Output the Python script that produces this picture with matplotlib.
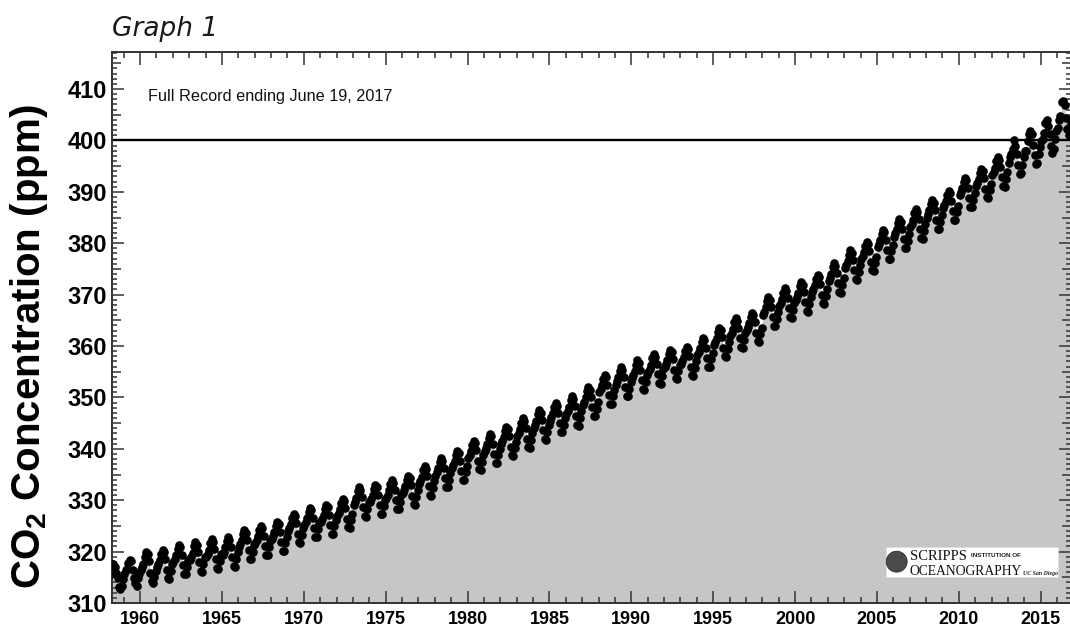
import matplotlib
matplotlib.use("Agg")
import matplotlib.pyplot as plt
import matplotlib.ticker as ticker
from matplotlib.patches import Rectangle, Ellipse
import numpy as np

###########################
# PLOT PARAMETERS
###########################
plt.rcParams['font.family'] = ['Liberation Sans', 'DejaVu Sans']
plt.rcParams['mathtext.fontset'] = 'custom'
plt.rcParams['mathtext.rm'] = 'Liberation Sans'
plt.rcParams['mathtext.bf'] = 'Liberation Sans:bold'

FILL_COLOR = '#c6c6c6'
AXIS_COLOR = '#333333'

# monthly mean CO2 at Mauna Loa (ppm), first value is March 1958
first_year = 1958
first_month = 3
co2_ppm = [
    315.7, 317.5, 317.5, 317.1, 315.9, 314.9, 313.2, 312.7, 313.3, 314.7,  # 1958
    315.6, 316.4, 316.7, 317.7, 318.3, 318.2, 316.5, 314.8, 313.8, 313.3, 314.8, 315.6,  # 1959
    316.4, 317.0, 317.6, 319.0, 320.0, 319.6, 318.2, 315.9, 314.2, 313.8, 315.0, 316.2,  # 1960
    317.0, 317.6, 318.4, 319.6, 320.4, 319.9, 318.5, 316.5, 314.8, 314.7, 316.2, 317.5,  # 1961
    317.9, 318.5, 319.3, 320.5, 321.3, 320.8, 319.4, 317.4, 315.7, 315.6, 317.1, 318.4,  # 1962
    318.4, 319.0, 319.8, 321.0, 321.8, 321.3, 319.9, 317.9, 316.2, 316.1, 317.6, 318.9,  # 1963
    319.0, 319.6, 320.4, 321.6, 322.4, 321.9, 320.5, 318.5, 316.8, 316.7, 318.2, 319.5,  # 1964
    319.4, 320.0, 320.8, 322.0, 322.8, 322.3, 320.9, 318.9, 317.2, 317.1, 318.6, 319.9,  # 1965
    320.8, 321.4, 322.2, 323.4, 324.2, 323.7, 322.3, 320.3, 318.6, 318.5, 320.0, 321.3,  # 1966
    321.6, 322.2, 323.0, 324.2, 325.0, 324.5, 323.1, 321.1, 319.4, 319.3, 320.8, 322.1,  # 1967
    322.4, 323.0, 323.8, 325.0, 325.8, 325.3, 323.9, 321.9, 320.2, 320.1, 321.6, 322.9,  # 1968
    324.0, 324.6, 325.4, 326.6, 327.4, 326.9, 325.5, 323.5, 321.8, 321.7, 323.2, 324.5,  # 1969
    325.1, 325.7, 326.5, 327.7, 328.5, 328.0, 326.6, 324.6, 322.9, 322.8, 324.3, 325.6,  # 1970
    325.7, 326.3, 327.1, 328.3, 329.1, 328.6, 327.2, 325.2, 323.5, 323.4, 324.9, 326.2,  # 1971
    326.9, 327.5, 328.3, 329.5, 330.3, 329.8, 328.4, 326.4, 324.7, 324.6, 326.1, 327.4,  # 1972
    329.1, 329.7, 330.5, 331.7, 332.5, 332.0, 330.6, 328.6, 326.9, 326.8, 328.3, 329.6,  # 1973
    329.6, 330.2, 331.0, 332.2, 333.0, 332.5, 331.1, 329.1, 327.4, 327.3, 328.8, 330.1,  # 1974
    330.5, 331.1, 331.9, 333.1, 333.9, 333.4, 332.0, 330.0, 328.3, 328.2, 329.7, 331.0,  # 1975
    331.4, 332.0, 332.8, 334.0, 334.8, 334.3, 332.9, 330.9, 329.2, 329.1, 330.6, 331.9,  # 1976
    333.2, 333.8, 334.6, 335.8, 336.6, 336.1, 334.7, 332.7, 331.0, 330.9, 332.4, 333.7,  # 1977
    334.8, 335.4, 336.2, 337.4, 338.2, 337.7, 336.3, 334.3, 332.6, 332.5, 334.0, 335.3,  # 1978
    336.2, 336.8, 337.6, 338.8, 339.6, 339.1, 337.7, 335.7, 334.0, 333.9, 335.4, 336.7,  # 1979
    338.2, 338.8, 339.6, 340.8, 341.6, 341.1, 339.7, 337.7, 336.0, 335.9, 337.4, 338.7,  # 1980
    339.5, 340.1, 340.9, 342.1, 342.9, 342.4, 341.0, 339.0, 337.3, 337.2, 338.7, 340.0,  # 1981
    340.9, 341.5, 342.3, 343.5, 344.3, 343.8, 342.4, 340.4, 338.7, 338.6, 340.1, 341.4,  # 1982
    342.5, 343.1, 343.9, 345.1, 345.9, 345.4, 344.0, 342.0, 340.3, 340.2, 341.7, 343.0,  # 1983
    344.1, 344.7, 345.5, 346.7, 347.5, 347.0, 345.6, 343.6, 341.9, 341.8, 343.3, 344.6,  # 1984
    345.5, 346.1, 346.9, 348.1, 348.9, 348.4, 347.0, 345.0, 343.3, 343.2, 344.7, 346.0,  # 1985
    346.8, 347.4, 348.2, 349.4, 350.2, 349.7, 348.3, 346.3, 344.6, 344.5, 346.0, 347.3,  # 1986
    348.6, 349.2, 350.0, 351.2, 352.0, 351.5, 350.1, 348.1, 346.4, 346.3, 347.8, 349.1,  # 1987
    351.0, 351.6, 352.4, 353.6, 354.4, 353.9, 352.5, 350.5, 348.8, 348.7, 350.2, 351.5,  # 1988
    352.5, 353.1, 353.9, 355.1, 355.9, 355.4, 354.0, 352.0, 350.3, 350.2, 351.7, 353.0,  # 1989
    353.8, 354.4, 355.2, 356.4, 357.2, 356.7, 355.3, 353.3, 351.6, 351.5, 353.0, 354.3,  # 1990
    355.0, 355.6, 356.4, 357.6, 358.4, 357.9, 356.5, 354.5, 352.8, 352.7, 354.2, 355.5,  # 1991
    355.9, 356.5, 357.3, 358.5, 359.3, 358.8, 357.4, 355.4, 353.7, 353.6, 355.1, 356.4,  # 1992
    356.5, 357.1, 357.9, 359.1, 359.9, 359.4, 358.0, 356.0, 354.3, 354.2, 355.7, 357.0,  # 1993
    358.2, 358.8, 359.6, 360.8, 361.6, 361.1, 359.7, 357.7, 356.0, 355.9, 357.4, 358.7,  # 1994
    360.2, 360.8, 361.6, 362.8, 363.6, 363.1, 361.7, 359.7, 358.0, 357.9, 359.4, 360.7,  # 1995
    362.0, 362.6, 363.4, 364.6, 365.4, 364.9, 363.5, 361.5, 359.8, 359.7, 361.2, 362.5,  # 1996
    363.1, 363.7, 364.5, 365.7, 366.5, 366.0, 364.6, 362.6, 360.9, 360.8, 362.3, 363.6,  # 1997
    366.1, 366.7, 367.5, 368.7, 369.5, 369.0, 367.6, 365.6, 363.9, 363.8, 365.3, 366.6,  # 1998
    367.8, 368.4, 369.2, 370.4, 371.2, 370.7, 369.3, 367.3, 365.6, 365.5, 367.0, 368.3,  # 1999
    369.0, 369.6, 370.4, 371.6, 372.4, 371.9, 370.5, 368.5, 366.8, 366.7, 368.2, 369.5,  # 2000
    370.5, 371.1, 371.9, 373.1, 373.9, 373.4, 372.0, 370.0, 368.3, 368.2, 369.7, 371.0,  # 2001
    372.7, 373.3, 374.1, 375.3, 376.1, 375.6, 374.2, 372.2, 370.5, 370.4, 371.9, 373.2,  # 2002
    375.2, 375.8, 376.6, 377.8, 378.6, 378.1, 376.7, 374.7, 373.0, 372.9, 374.4, 375.7,  # 2003
    376.9, 377.5, 378.3, 379.5, 380.3, 379.8, 378.4, 376.4, 374.7, 374.6, 376.1, 377.4,  # 2004
    379.2, 379.8, 380.6, 381.8, 382.6, 382.1, 380.7, 378.7, 377.0, 376.9, 378.4, 379.7,  # 2005
    381.3, 381.9, 382.7, 383.9, 384.7, 384.2, 382.8, 380.8, 379.1, 379.0, 380.5, 381.8,  # 2006
    383.2, 383.8, 384.6, 385.8, 386.6, 386.1, 384.7, 382.7, 381.0, 380.9, 382.4, 383.7,  # 2007
    385.0, 385.6, 386.4, 387.6, 388.4, 387.9, 386.5, 384.5, 382.8, 382.7, 384.2, 385.5,  # 2008
    386.8, 387.4, 388.2, 389.4, 390.2, 389.7, 388.3, 386.3, 384.6, 384.5, 386.0, 387.3,  # 2009
    389.3, 389.9, 390.7, 391.9, 392.7, 392.2, 390.8, 388.8, 387.1, 387.0, 388.5, 389.8,  # 2010
    391.1, 391.7, 392.5, 393.7, 394.5, 394.0, 392.6, 390.6, 388.9, 388.8, 390.3, 391.6,  # 2011
    393.3, 393.9, 394.7, 395.9, 396.7, 396.2, 394.8, 392.8, 391.1, 391.0, 392.5, 393.8,  # 2012
    395.6, 396.8, 397.4, 398.4, 400.0, 398.9, 397.4, 395.3, 393.5, 393.7, 395.2, 396.8,  # 2013
    397.9, 398.0, 399.8, 401.3, 401.9, 401.3, 399.1, 397.1, 395.4, 395.6, 397.3, 398.8,  # 2014
    399.9, 400.3, 401.5, 403.3, 403.9, 402.8, 401.3, 398.9, 397.6, 398.3, 400.2, 401.8,  # 2015
    402.5, 404.0, 404.8, 407.4, 407.7, 406.8, 404.4, 402.3, 401.0, 401.6, 403.5, 404.4,  # 2016
    406.1, 406.4, 407.1, 409.0, 409.7, 408.8,  # 2017
]

x_ticks = [1960, 1965, 1970, 1975, 1980, 1985, 1990, 1995, 2000, 2005, 2010, 2015]
y_ticks = [310, 320, 330, 340, 350, 360, 370, 380, 390, 400, 410]
reference_level = 400
record_note = "Full Record ending June 19, 2017"

x_range = (1958.27, 2016.85)
y_range = (310, 417.2)

# decimal year at the middle of each month
co2 = np.array(co2_ppm)
t = first_year + (first_month - 1 + np.arange(len(co2)) + 0.5) / 12.0

fig = plt.figure(figsize=(10.70, 6.29), dpi=100)
ax = fig.add_axes([111.7 / 1070, 26 / 629, 959.3 / 1070, 551 / 629])

ax.fill_between(t, co2, y_range[0], color=FILL_COLOR, linewidth=0, zorder=1)
ax.axhline(reference_level, color='black', linewidth=1.7, zorder=2)
ax.plot(t, co2, linestyle='none', marker='o', markersize=6.2,
        color='black', markeredgewidth=0, zorder=3)

ax.set_xlim(*x_range)
ax.set_ylim(*y_range)

ax.set_xticks(x_ticks)
ax.set_xticklabels([str(v) for v in x_ticks])
ax.xaxis.set_minor_locator(ticker.MultipleLocator(1))
ax.set_yticks(y_ticks)
ax.set_yticklabels([str(v) for v in y_ticks])
ax.yaxis.set_minor_locator(ticker.MultipleLocator(1))

ax.tick_params(axis='both', which='both', direction='in', top=True, right=True,
               color=AXIS_COLOR, width=1.1)
ax.tick_params(axis='x', which='major', length=9, pad=5.5, labelsize=13)
ax.tick_params(axis='x', which='minor', length=4)
ax.tick_params(axis='y', which='major', length=8.5, pad=3.5, labelsize=17)
ax.tick_params(axis='y', which='minor', length=3.8)
for lab in ax.get_xticklabels() + ax.get_yticklabels():
    lab.set_fontweight('bold')

# medium ticks at every 5 ppm
ylocs = ax.yaxis.get_minorticklocs()
for loc, tick in zip(ylocs, ax.yaxis.get_minor_ticks(len(ylocs))):
    if abs(loc % 5) < 1e-6:
        tick.tick1line.set_markersize(6.5)
        tick.tick2line.set_markersize(6.5)

for sp in ax.spines.values():
    sp.set_color(AXIS_COLOR)
    sp.set_linewidth(1.4)

ax.set_ylabel(r"CO$_\mathbf{2}$ Concentration (ppm)", fontsize=29,
              fontweight='bold')
ax.yaxis.set_label_coords(-0.064, 0.466)

ax.text(0.038, 0.911, record_note, transform=ax.transAxes, fontsize=11.7,
        va='baseline', ha='left', color='#111111')

fig.text(112 / 1070, (629 - 36) / 629, "Graph 1", family='DejaVu Sans',
         style='italic', fontsize=19, va='baseline', ha='left', color='#1a1a1a')

# Scripps logo box
ax.add_patch(Rectangle((0.807, 0.0472), 0.1795, 0.0544, transform=ax.transAxes,
                       facecolor='white', edgecolor='#dddddd', linewidth=0.5, zorder=4))
ax.add_patch(Ellipse((0.8183, 0.075), 21 / 959.3, 21 / 551, transform=ax.transAxes,
                     facecolor='#4a4a4a', edgecolor='#222222', linewidth=0.5, zorder=5))
ax.text(0.832, 0.078, "SCRIPPS", transform=ax.transAxes, family='Liberation Serif',
        fontsize=10.5, va='baseline', ha='left', color='#111111', zorder=6)
ax.text(0.8955, 0.0835, "INSTITUTION OF", transform=ax.transAxes, fontsize=4.6,
        fontweight='bold', va='baseline', ha='left', color='#222222', zorder=6)
ax.text(0.832, 0.0515, "OCEANOGRAPHY", transform=ax.transAxes, family='Liberation Serif',
        fontsize=9.8, va='baseline', ha='left', color='#111111', zorder=6)
ax.text(0.9495, 0.0515, "UC San Diego", transform=ax.transAxes, family='Liberation Serif',
        fontsize=4.2, style='italic', fontweight='bold', va='baseline', ha='left',
        color='#222222', zorder=6)

plt.savefig("out.png", dpi=100)
